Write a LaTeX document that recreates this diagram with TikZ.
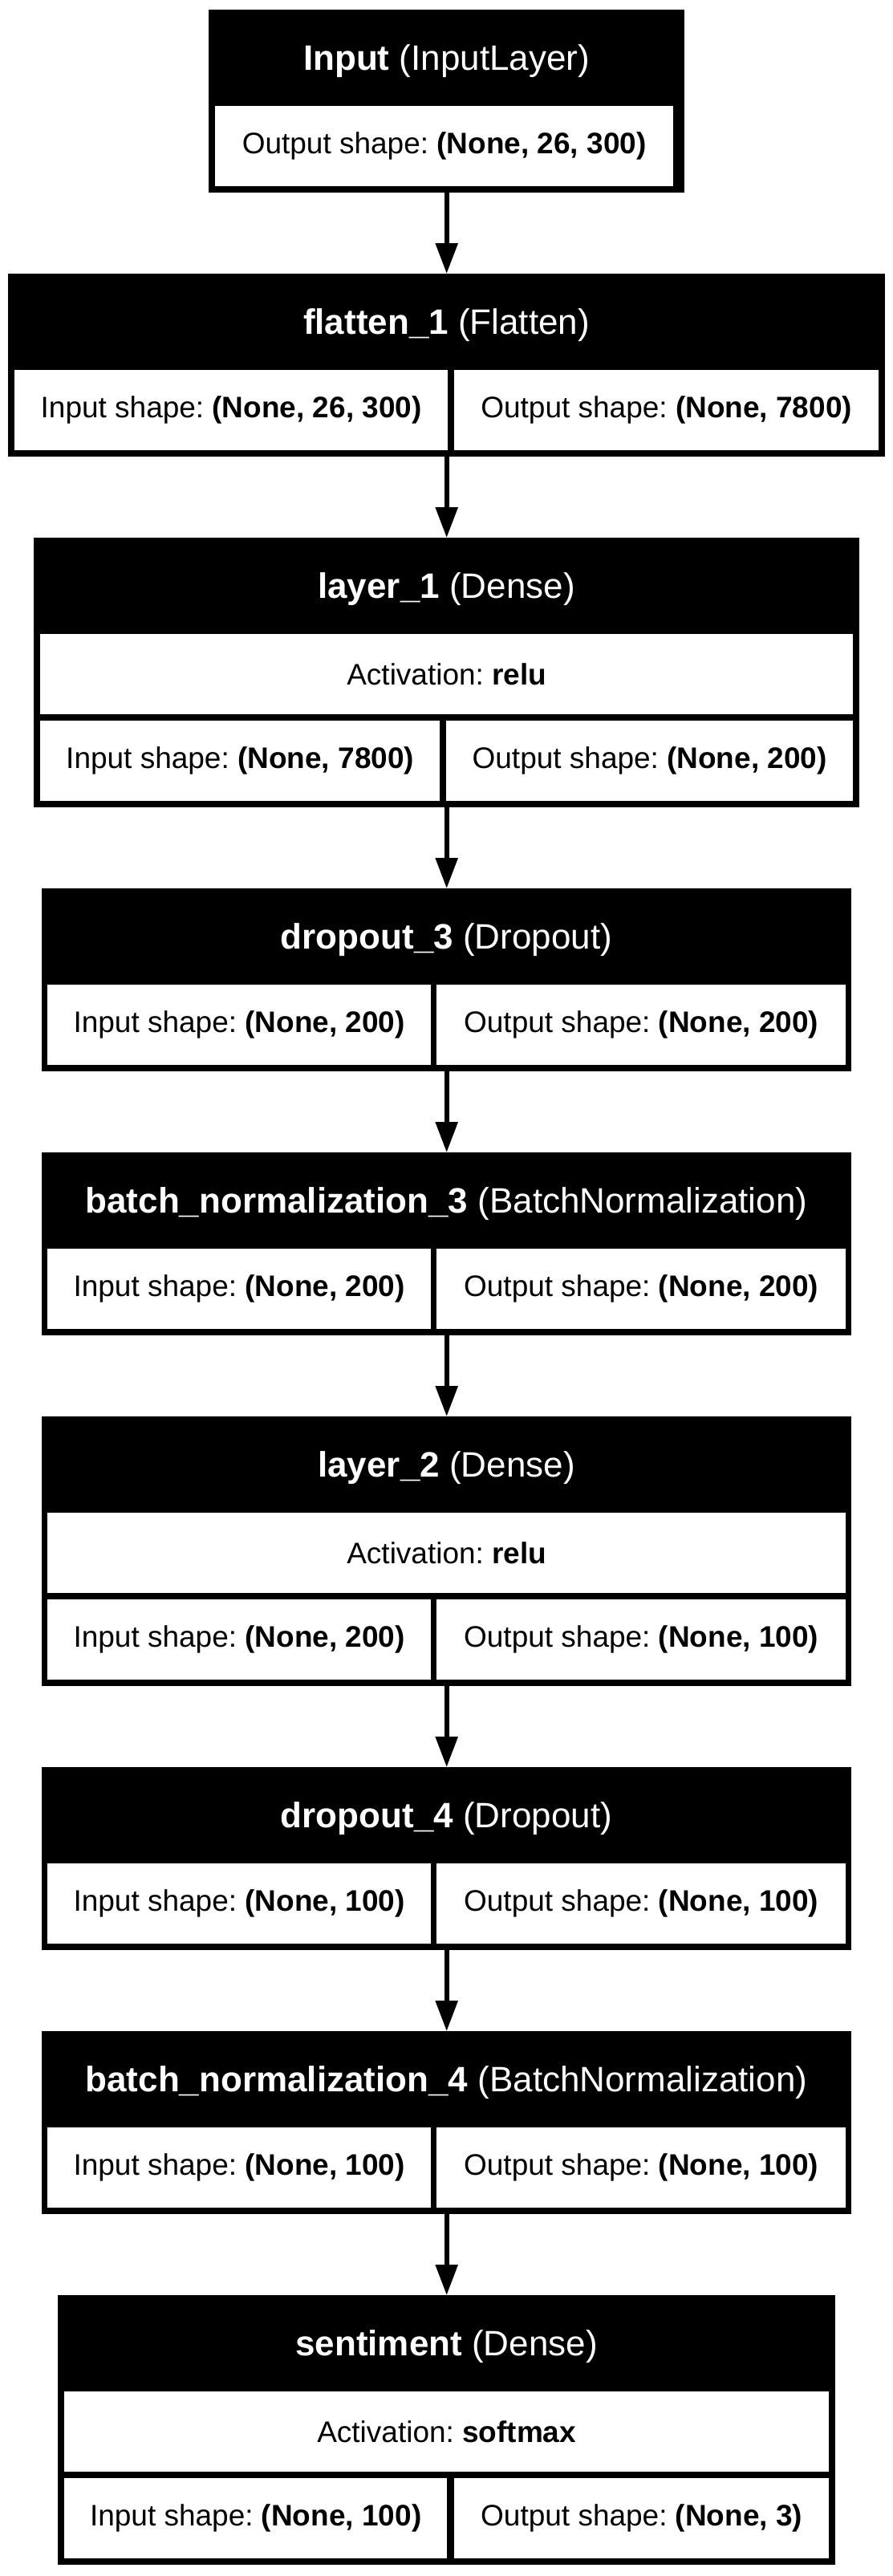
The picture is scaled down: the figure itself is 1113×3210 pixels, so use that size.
\documentclass[tikz,border=0pt]{standalone}
\usepackage{fontspec}
\setmainfont{Liberation Sans}
\usetikzlibrary{arrows.meta}
\newcommand{\bodyfont}{\fontsize{37}{44}\selectfont}
\newcommand{\headfont}{\fontsize{44}{52}\selectfont}
\frenchspacing

\begin{document}
\begin{tikzpicture}
[x=1pt,y=-1pt,
blk/.style={shape=rectangle,fill=black,draw=none,inner sep=0pt,anchor=north west},
hdr/.style={text=white,font=\headfont,inner sep=0pt},
cell/.style={shape=rectangle,fill=white,draw=none,inner sep=0pt,anchor=north west,
  minimum height=100pt,font=\bodyfont},
arr/.style={line width=5.7pt,-{Triangle[length=38pt,width=27pt]}}]
\useasboundingbox (0,0) rectangle (1113,3210);
%%
% Input
%%
\node[blk,minimum width=593pt,minimum height=228pt] (input) at (260,12) {};
\node[hdr] (input-h) at (556.5,76) {\textbf{Input} (InputLayer)};
\node[cell,minimum width=571pt] (input-o) at (268,132)
  {Output shape: \textbf{(None, 26, 300)}};
%%
% flatten_1
%%
\node[blk,minimum width=1093pt,minimum height=228pt] (flat) at (10,341) {};
\node[hdr] (flat-h) at (556.5,405) {\textbf{flatten\_1} (Flatten)};
\node[cell,minimum width=540pt] (flat-i) at (18,461)
  {Input shape: \textbf{(None, 26, 300)}};
\node[cell,minimum width=529pt] (flat-o) at (566,461)
  {Output shape: \textbf{(None, 7800)}};
%%
% layer_1
%%
\node[blk,minimum width=1029pt,minimum height=336pt] (l1) at (42,670) {};
\node[hdr] (l1-h) at (556.5,734) {\textbf{layer\_1} (Dense)};
\node[cell,minimum width=1013pt] (l1-a) at (50,790)
  {Activation: \textbf{relu}};
\node[cell,minimum width=498pt] (l1-i) at (50,898)
  {Input shape: \textbf{(None, 7800)}};
\node[cell,minimum width=507pt] (l1-o) at (556,898)
  {Output shape: \textbf{(None, 200)}};
%%
% dropout_3
%%
\node[blk,minimum width=1009pt,minimum height=228pt] (d3) at (52,1107) {};
\node[hdr] (d3-h) at (556.5,1171) {\textbf{dropout\_3} (Dropout)};
\node[cell,minimum width=478pt] (d3-i) at (59,1227)
  {Input shape: \textbf{(None, 200)}};
\node[cell,minimum width=510pt] (d3-o) at (544,1227)
  {Output shape: \textbf{(None, 200)}};
%%
% batch_normalization_3
%%
\node[blk,minimum width=1009pt,minimum height=228pt] (bn3) at (52,1436) {};
\node[hdr] (bn3-h) at (556.5,1500) {\textbf{batch\_normalization\_3} (BatchNormalization)};
\node[cell,minimum width=478pt] (bn3-i) at (59,1556)
  {Input shape: \textbf{(None, 200)}};
\node[cell,minimum width=510pt] (bn3-o) at (544,1556)
  {Output shape: \textbf{(None, 200)}};
%%
% layer_2
%%
\node[blk,minimum width=1009pt,minimum height=336pt] (l2) at (52,1765) {};
\node[hdr] (l2-h) at (556.5,1829) {\textbf{layer\_2} (Dense)};
\node[cell,minimum width=995pt] (l2-a) at (59,1885)
  {Activation: \textbf{relu}};
\node[cell,minimum width=478pt] (l2-i) at (59,1993)
  {Input shape: \textbf{(None, 200)}};
\node[cell,minimum width=510pt] (l2-o) at (544,1993)
  {Output shape: \textbf{(None, 100)}};
%%
% dropout_4
%%
\node[blk,minimum width=1009pt,minimum height=228pt] (d4) at (52,2202) {};
\node[hdr] (d4-h) at (556.5,2266) {\textbf{dropout\_4} (Dropout)};
\node[cell,minimum width=478pt] (d4-i) at (59,2322)
  {Input shape: \textbf{(None, 100)}};
\node[cell,minimum width=510pt] (d4-o) at (544,2322)
  {Output shape: \textbf{(None, 100)}};
%%
% batch_normalization_4
%%
\node[blk,minimum width=1009pt,minimum height=228pt] (bn4) at (52,2531) {};
\node[hdr] (bn4-h) at (556.5,2595) {\textbf{batch\_normalization\_4} (BatchNormalization)};
\node[cell,minimum width=478pt] (bn4-i) at (59,2651)
  {Input shape: \textbf{(None, 100)}};
\node[cell,minimum width=510pt] (bn4-o) at (544,2651)
  {Output shape: \textbf{(None, 100)}};
%%
% sentiment
%%
\node[blk,minimum width=969pt,minimum height=336pt] (out) at (72,2860) {};
\node[hdr] (out-h) at (556.5,2924) {\textbf{sentiment} (Dense)};
\node[cell,minimum width=953pt] (out-a) at (80,2980)
  {Activation: \textbf{softmax}};
\node[cell,minimum width=477pt] (out-i) at (80,3088)
  {Input shape: \textbf{(None, 100)}};
\node[cell,minimum width=467pt] (out-o) at (566,3088)
  {Output shape: \textbf{(None, 3)}};
%%
% connections
%%
\draw[arr] (input.south) -- (flat.north);
\draw[arr] (flat.south) -- (l1.north);
\draw[arr] (l1.south) -- (d3.north);
\draw[arr] (d3.south) -- (bn3.north);
\draw[arr] (bn3.south) -- (l2.north);
\draw[arr] (l2.south) -- (d4.north);
\draw[arr] (d4.south) -- (bn4.north);
\draw[arr] (bn4.south) -- (out.north);
\end{tikzpicture}
\end{document}
